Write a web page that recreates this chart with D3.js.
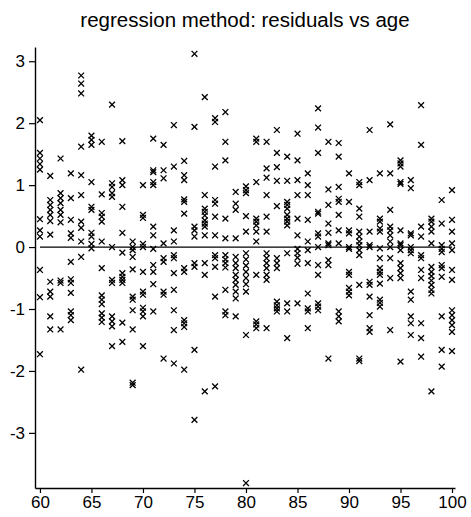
<!DOCTYPE html>
<html>
<head>
<meta charset="utf-8">
<script src="https://cdn.jsdelivr.net/npm/d3@7"></script>
<style>
  body { margin: 0; background: #fff; }
  svg { display: block; font-family: "Liberation Sans", Arial, Helvetica, sans-serif; }
</style>
</head>
<body>
<svg id="chart"></svg>
<script>
const title = "regression method: residuals vs age";
const ages = d3.range(60, 101);
// residuals, one list per age (60..100)
const residuals = [
  [2.05, 1.52, 1.43, 1.34, 1.25, 0.45, 0.27, 0.17, -0.37, -0.81, -1.73],
  [1.15, 0.76, 0.68, 0.6, 0.52, 0.42, 0.2, -0.56, -0.72, -0.8, -1.12, -1.33],
  [1.43, 0.87, 0.79, 0.71, 0.6, 0.52, 0.4, -0.54, -0.58, -1.33],
  [1.19, 0.79, 0.44, 0.22, 0.15, -0.24, -0.52, -0.58, -0.74, -1.04, -1.1, -1.18],
  [2.77, 2.64, 2.48, 1.62, 1.16, 0.84, 0.41, 0.31, 0.09, -0.16, -1.98],
  [1.8, 1.73, 1.65, 1.05, 0.65, 0.6, 0.23, 0.17, 0.05, -0.02],
  [1.7, 0.85, 0.55, 0.49, 0.41, 0.09, -0.34, -0.78, -0.85, -0.92, -1.07, -1.14, -1.21],
  [2.3, 1.03, 0.97, 0.87, 0.81, 0.0, -0.53, -0.58, -1.12, -1.2, -1.28, -1.6],
  [1.71, 1.08, 1.0, 0.65, 0.23, -0.09, -0.42, -0.48, -0.53, -0.58, -1.22, -1.53],
  [0.09, 0.0, -0.05, -0.16, -0.36, -0.8, -0.85, -1.02, -1.33, -2.19, -2.23],
  [1.0, 0.52, 0.47, 0.05, 0.0, -0.4, -0.72, -0.77, -0.98, -1.04, -1.12, -1.6],
  [1.75, 1.24, 1.21, 1.05, 1.0, 0.33, 0.19, -0.03, -0.29, -0.4, -0.6, -1.04],
  [1.65, 1.24, 1.11, 0.06, -0.18, -0.24, -0.72, -0.77, -1.8],
  [1.97, 1.3, 0.27, 0.09, -0.13, -0.18, -0.42, -0.69, -1.02, -1.34, -1.88],
  [1.39, 1.16, 1.08, 0.77, 0.73, 0.54, -0.34, -0.4, -1.18, -1.23, -1.29, -1.98],
  [3.12, 1.94, 0.33, 0.27, 0.17, -0.26, -0.32, -1.66, -2.79],
  [2.42, 0.84, 0.62, 0.57, 0.51, 0.43, 0.38, 0.33, 0.19, -0.26, -0.45, -2.33],
  [2.08, 2.02, 1.3, 0.76, 0.7, 0.49, 0.19, -0.13, -0.18, -0.32, -0.8, -2.25],
  [2.18, 1.7, 1.4, 0.46, 0.14, -0.13, -0.2, -0.26, -0.33, -0.69, -1.04, -1.1],
  [0.89, 0.7, 0.6, 0.14, -0.16, -0.26, -0.34, -0.45, -0.53, -0.61, -0.72, -0.83, -1.12],
  [0.98, 0.92, 0.87, 0.5, 0.25, -0.1, -0.2, -0.3, -0.4, -0.5, -0.6, -0.72, -1.42, -3.81],
  [1.75, 1.7, 1.05, 0.46, 0.41, 0.35, 0.25, 0.09, -0.45, -1.2, -1.25, -1.31],
  [1.7, 1.27, 1.12, 0.84, 0.49, 0.25, -0.1, -0.18, -0.26, -0.34, -0.45, -0.53, -1.31],
  [1.89, 1.52, 1.29, 1.07, 0.66, -0.18, -0.26, -0.34, -0.88, -0.94, -0.99, -1.04],
  [1.46, 1.07, 0.73, 0.68, 0.62, 0.52, 0.46, 0.41, 0.35, -0.1, -0.91, -1.04, -1.47],
  [1.83, 1.4, 1.08, 0.84, 0.46, 0.19, -0.03, -0.1, -0.17, -0.27, -0.91],
  [1.19, 1.0, 0.84, 0.44, 0.09, -0.05, -0.26, -0.75, -0.99, -1.04, -1.31],
  [2.24, 1.93, 1.52, 0.57, 0.54, 0.22, 0.17, 0.0, -0.29, -0.45, -0.91, -0.96, -1.02],
  [1.7, 0.93, 0.68, 0.38, 0.23, 0.06, 0.03, -0.21, -0.29, -1.8],
  [1.68, 1.46, 0.97, 0.78, 0.73, 0.52, 0.27, 0.06, -1.04, -1.12, -1.2],
  [1.19, 0.73, 0.27, 0.22, 0.0, -0.03, -0.4, -0.45, -0.66, -0.72, -0.78],
  [1.05, 1.0, 0.62, 0.49, 0.25, 0.17, 0.09, 0.03, -0.05, -0.13, -0.61, -1.8, -1.84],
  [1.89, 1.08, 0.25, 0.03, 0.0, -0.56, -0.61, -0.8, -1.1, -1.31, -1.37],
  [1.19, 0.46, 0.41, 0.3, 0.25, -0.02, -0.18, -0.34, -0.4, -0.45, -0.59, -0.85, -0.9, -0.96],
  [1.98, 1.19, 0.6, 0.33, 0.27, 0.19, 0.09, 0.0, -0.18, -0.5, -1.34],
  [1.4, 1.35, 1.3, 1.05, 1.02, 0.27, 0.06, 0.03, -0.05, -0.26, -0.34, -0.42, -0.5, -1.85],
  [1.08, 0.95, 0.22, 0.19, 0.0, -0.05, -0.1, -0.72, -0.85, -1.12, -1.23, -1.42],
  [2.29, 1.65, 0.33, 0.17, -0.13, -0.18, -0.37, -0.5, -1.23, -1.47, -1.77],
  [0.46, 0.41, 0.33, 0.25, 0.06, -0.32, -0.4, -0.47, -0.54, -0.61, -0.69, -0.75, -2.33],
  [0.76, 0.38, 0.03, -0.03, -0.08, -0.29, -0.34, -0.48, -1.12, -1.66, -1.93],
  [0.92, 0.44, 0.25, 0.06, -0.05, -0.37, -0.53, -1.02, -1.1, -1.18, -1.26, -1.37, -1.68]
];
const xTicks = [60, 65, 70, 75, 80, 85, 90, 95, 100];
const yTicks = [-3, -2, -1, 0, 1, 2, 3];

const width = 471, height = 517;
const svg = d3.select("#chart").attr("width", width).attr("height", height);

const x = d3.scaleLinear().domain([59.52, 100.29]).range([35, 455]);
const y = d3.scaleLinear().domain([-3.89, 3.23]).range([488, 47]);

const points = [];
ages.forEach((a, i) => residuals[i].forEach(r => points.push({ age: a, res: r })));

svg.append("text")
    .attr("x", 245)
    .attr("y", 27)
    .attr("text-anchor", "middle")
    .style("font-size", "20.5px")
    .text(title);

// axes
const xAxis = svg.append("g")
    .attr("transform", `translate(0,${y.range()[0]})`)
    .call(d3.axisBottom(x).tickValues(xTicks).tickSize(5).tickPadding(3).tickSizeOuter(0));
const yAxis = svg.append("g")
    .attr("transform", `translate(${x.range()[0]},0)`)
    .call(d3.axisLeft(y).tickValues(yTicks).tickSize(6).tickPadding(4)
        .tickFormat(d => d < 0 ? "-" + Math.abs(d) : d).tickSizeOuter(0));
[xAxis, yAxis].forEach(g => {
    g.select(".domain").attr("stroke", "#000").attr("stroke-width", 1.4);
    g.selectAll(".tick line").attr("stroke", "#000").attr("stroke-width", 1.2);
    g.selectAll(".tick text")
        .attr("fill", "#000")
        .style("font-size", "17px")
        .style("font-family", "'Liberation Sans', Arial, sans-serif");
});

// reference line at zero
svg.append("line")
    .attr("x1", x(60)).attr("x2", x(100))
    .attr("y1", y(0)).attr("y2", y(0))
    .attr("stroke", "#000")
    .attr("stroke-width", 1.3);

// x markers
const s = 2.9;
svg.append("g")
    .selectAll("path")
    .data(points)
    .join("path")
    .attr("d", d => {
        const px = x(d.age), py = y(d.res);
        return `M${px - s},${py - s}L${px + s},${py + s}M${px - s},${py + s}L${px + s},${py - s}`;
    })
    .attr("stroke", "#000")
    .attr("stroke-width", 1.3)
    .attr("fill", "none");
</script>
</body>
</html>
